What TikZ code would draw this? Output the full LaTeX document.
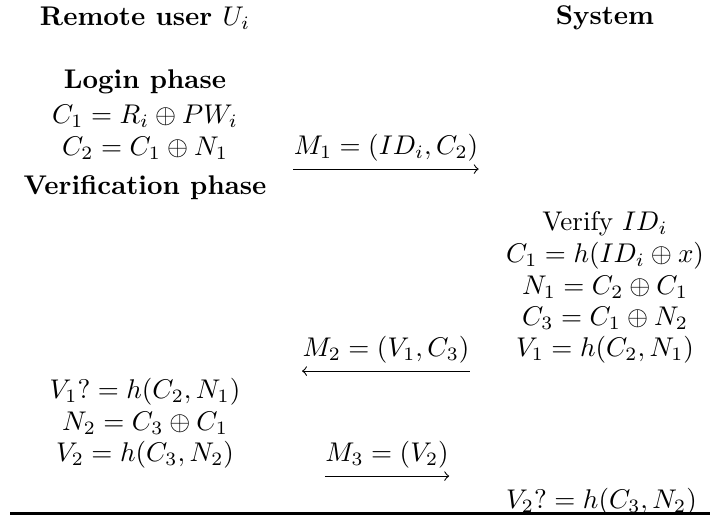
\documentclass[tikz,border=0pt]{standalone}
\usepackage{amsmath}
\begin{document}
\begin{tikzpicture}[>=to, every node/.style={inner sep=0pt},
        msg/.style={inner xsep=0pt, inner ysep=2.6pt}, hdr/.style={font=\bfseries}]
        \useasboundingbox (0,0) rectangle (9.23,6.695);
        % Headers
        \node[hdr] (user) at (1.885, 6.461) {Remote user $U_i$};
        \node[hdr] (sys) at (7.865, 6.461) {System};
        % Login phase
        \node[hdr] (login) at (1.885, 5.629) {Login phase};
        \node (uca) at (1.885, 5.187) {$C_1 = R_i \oplus PW_i$};
        \node (ucb) at (1.885, 4.771) {$C_2 = C_1 \oplus N_1$};
        \node[msg] (m1) at (5.018, 4.771) {$M_1 = (ID_i, C_2)$};
        \draw[->] (m1.south west) -- (m1.south east);
        % Verification phase
        \node[hdr] (verif) at (1.885, 4.251) {Verification phase};
        % System side
        \foreach \i/\y/\lab in {1/3.79/{Verify $ID_i$}, 2/3.367/{$C_1 = h(ID_i \oplus x)$},
                3/2.964/{$N_1 = C_2 \oplus C_1$}, 4/2.561/{$C_3 = C_1 \oplus N_2$},
                5/2.145/{$V_1 = h(C_2, N_1)$}} {
            \node (s\i) at (7.865, \y) {\lab};
        }
        \node[msg] (m2) at (5.018, 2.145) {$M_2 = (V_1, C_3)$};
        \draw[<-] (m2.south west) -- (m2.south east);
        % User side checks
        \foreach \i/\y/\lab in {1/1.599/{$V_1 ?= h(C_2, N_1)$}, 2/1.196/{$N_2 = C_3 \oplus C_1$},
                3/0.780/{$V_2 = h(C_3, N_2)$}} {
            \node (u\i) at (1.885, \y) {\lab};
        }
        \node[msg] (m3) at (5.031, 0.780) {$M_3 = (V_2)$};
        \draw[->] (m3.south west) -- (m3.south east);
        \node (sv) at (7.82, 0.17) {$V_2 ?= h(C_3, N_2)$};
        % Closing rule
        \coordinate (rl) at (0.13, 0.02);
        \coordinate (rr) at (9.23, 0.02);
        \draw[line width=1.2pt] (rl) -- (rr);
    \end{tikzpicture}
\end{document}
